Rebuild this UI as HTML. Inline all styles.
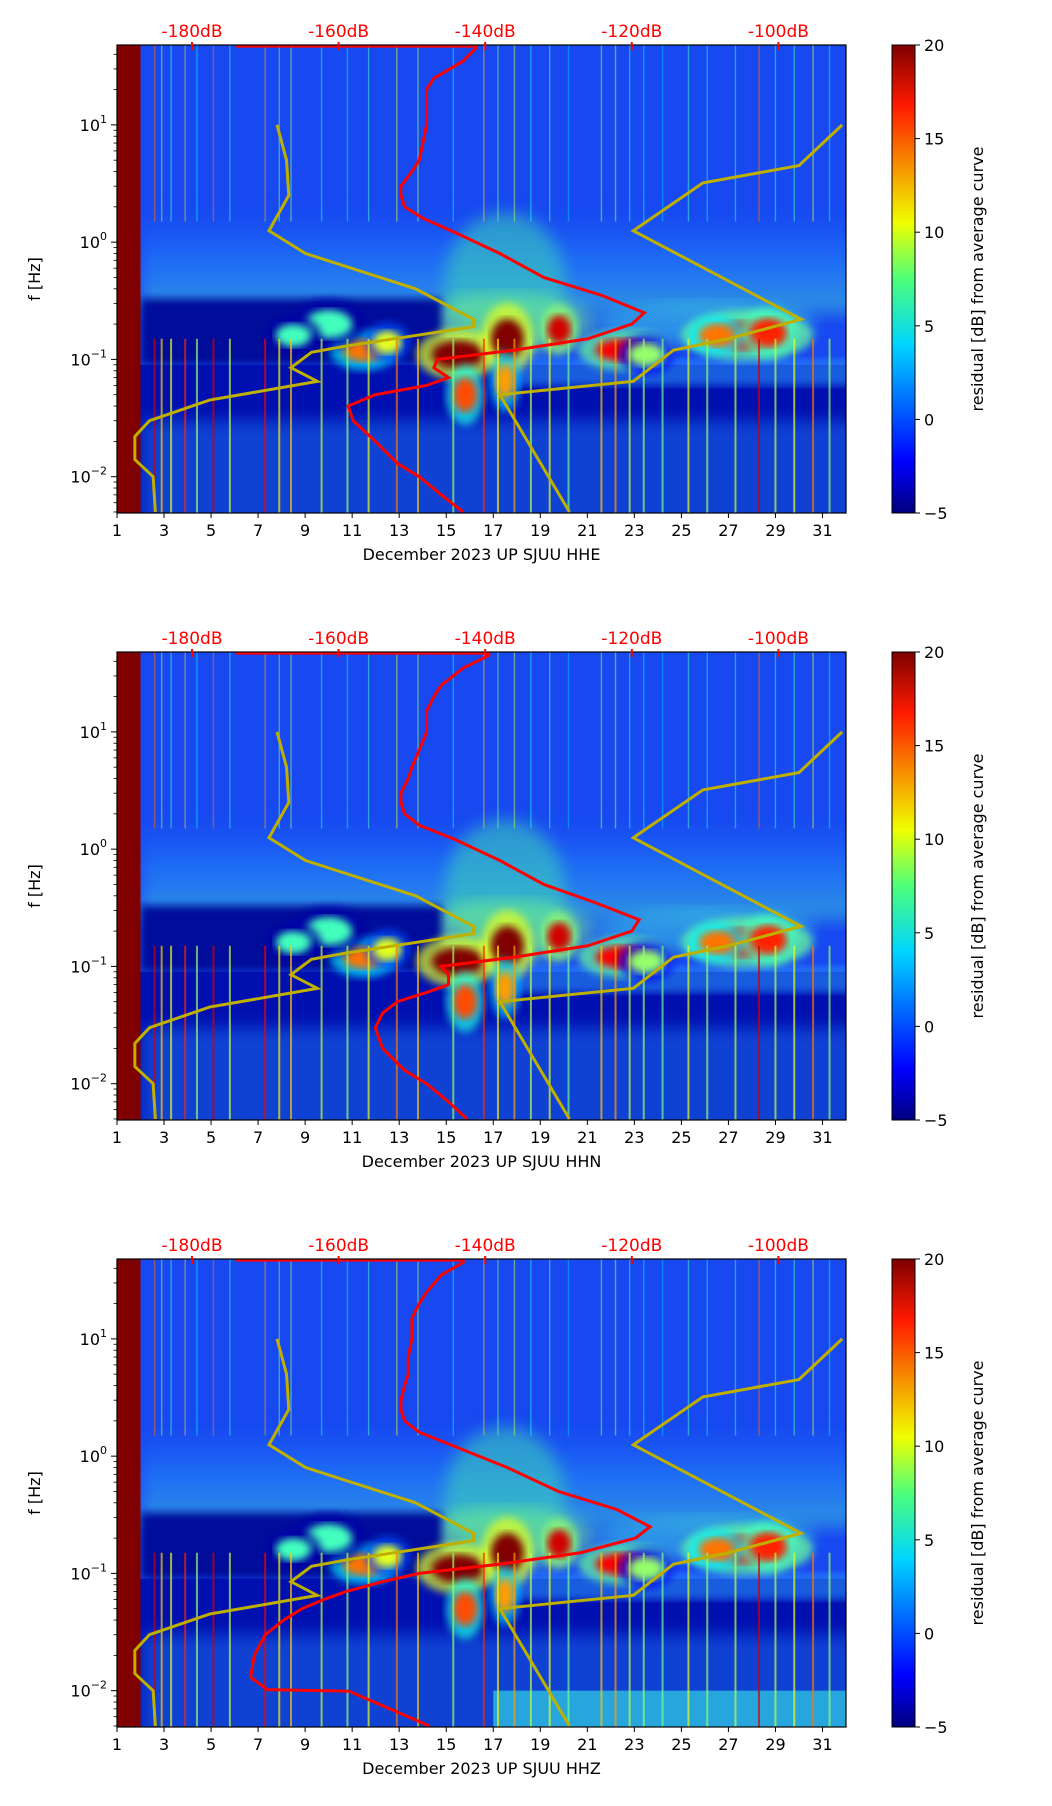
<!DOCTYPE html>
<html><head><meta charset="utf-8"><style>
html,body{margin:0;padding:0;background:#fff;overflow:hidden;width:1052px;height:1806px}
svg{display:block;font-family:"DejaVu Sans","Liberation Sans",sans-serif}
</style></head><body>
<svg id="fig" width="1052" height="1806" viewBox="0 0 1052 1806" xmlns="http://www.w3.org/2000/svg">
<defs>
<linearGradient id="jet" x1="0" y1="1" x2="0" y2="0">
<stop offset="0" stop-color="#00007f"/><stop offset="0.11" stop-color="#0000ff"/><stop offset="0.36" stop-color="#00d5ff"/><stop offset="0.5" stop-color="#4dff7a"/><stop offset="0.62" stop-color="#f0ff00"/><stop offset="0.87" stop-color="#ff1a00"/><stop offset="1" stop-color="#7f0000"/>
</linearGradient>
<linearGradient id="haze" x1="0" y1="0" x2="0" y2="1">
<stop offset="0" stop-color="#1e7cff" stop-opacity="0"/><stop offset="0.5" stop-color="#2aa8ff" stop-opacity="0.7"/><stop offset="1" stop-color="#46e0d0" stop-opacity="0.9"/>
</linearGradient>
<filter id="blur4"><feGaussianBlur stdDeviation="4"/></filter>
<filter id="blur8"><feGaussianBlur stdDeviation="8"/></filter>
</defs>
</svg>
<script>
// ---- data ----
const panelNames = ["HHE","HHN","HHZ"];
const dayTicks = [1,3,5,7,9,11,13,15,17,19,21,23,25,27,29,31];
const dbTicks = [-180,-160,-140,-120,-100];
const cbTicks = [20,15,10,5,0,-5];
// red curve: frequency (Hz) and level (dB) per panel
const redFreqE = [45,35,25,20,15,10,7,5,4,3,2.5,2,1.6,1.2,0.8,0.5,0.35,0.25,0.2,0.15,0.12,0.1,0.085,0.07,0.06,0.05,0.04,0.03,0.02,0.013,0.01,0.007,0.005];
const redDbE = [-141.3,-143,-147,-148,-148,-148,-148.5,-149,-150,-151.5,-151.5,-151,-148.5,-144,-138,-132,-124,-118.3,-120,-126,-136,-146.5,-147,-145,-148,-155,-158.7,-158,-155,-152,-149,-146,-143];
const redFreqN = redFreqE;
const redDbN = [-139.5,-143,-146,-147,-148,-148,-149,-150,-150.5,-151.5,-151.5,-151,-149,-144,-138,-132,-125,-119,-120,-126,-136,-146,-145,-145,-148,-152,-154,-155,-154,-151,-148,-145,-142.5];
const redFreqZ = [45,35,25,20,15,10,7,5,4,3,2.5,2,1.6,1.2,0.8,0.5,0.35,0.25,0.2,0.15,0.12,0.1,0.085,0.07,0.06,0.05,0.04,0.03,0.02,0.013,0.0102,0.0099,0.007,0.005];
const redDbZ = [-143,-146,-148,-149,-150,-150,-150.5,-150.5,-151,-151.5,-151.5,-151,-149,-144,-137,-130,-122,-117.5,-119.5,-127,-138,-149,-154,-159,-162,-165,-167.5,-170,-171.5,-172,-169.7,-158.6,-153,-147.6];
const redFreqSets = [redFreqE, redFreqN, redFreqZ];
const redDbSets = [redDbE, redDbN, redDbZ];
// noise models (yellow)
const nlnmFreq = [10,5,2.5,1.25,0.8,0.4,0.22,0.19,0.13,0.115,0.085,0.065,0.045,0.03,0.022,0.014,0.01,0.005];
const nlnmDb = [-168.4,-167.1,-166.8,-169.5,-164.5,-149.5,-141.6,-141.6,-159,-163.7,-166.5,-162.9,-177.6,-185.8,-187.8,-187.8,-185.3,-185];
const nhnmFreq = [10,4.5,3.2,1.25,0.22,0.15,0.12,0.065,0.05,0.005];
const nhnmDb = [-91.3,-97.2,-110.3,-119.8,-96.9,-106.8,-114.3,-119.8,-138,-128.5];
// spectrogram blobs: day, freq, residual dB, width(days), height(decades)
const blobDay = [15.5,17.6,19.8,22.6,27.8,11.5,12.5,15.8,17.5,23.5,26.5,28.7,10,8.5];
const blobFreq = [0.11,0.15,0.18,0.12,0.16,0.12,0.14,0.05,0.065,0.11,0.16,0.17,0.2,0.16];
const blobVal = [20,20,18,17,17,14,10,15,13,8,14,16,6,6];
const blobW = [2.2,1.4,1.0,2.5,3.5,1.8,1.2,1.0,0.8,1.5,1.5,1.5,2,1.5];
const blobH = [0.1,0.14,0.1,0.08,0.1,0.08,0.08,0.12,0.12,0.08,0.08,0.1,0.1,0.08];
// vertical streaks: day, residual dB
const streakDay = [2.6,2.9,3.3,3.9,4.4,5.1,5.8,7.3,7.9,8.4,9.7,10.8,11.7,12.9,13.8,15.3,16.6,17.2,17.9,18.6,19.4,20.2,21.6,22.2,22.8,23.4,24.2,25.3,26.1,27.3,28.3,29.0,29.8,30.6,31.3];
const streakVal = [18,12,10,16,8,18,9,17,11,12,9,8,10,14,12,8,16,11,13,9,10,7,12,13,9,8,7,10,8,9,18,9,10,14,8];

// ---- helpers ----
const NS = "http://www.w3.org/2000/svg";
const svg = document.getElementById("fig");
const L = 117, R = 846, W = R - L, H = 468;
const panelTop = [45, 652, 1259];
const fTop = Math.log10(48), fBot = Math.log10(0.0049);
function xDay(d){ return L + (d - 1) / 31 * W; }
function yF(T, f){ return T + (fTop - Math.log10(f)) / (fTop - fBot) * H; }
function xDb(db){ return 192 + (db + 180) * 7.33; }
function jet(v){
  const t = Math.max(0, Math.min(1, (v + 5) / 25));
  const c = x => Math.round(255 * Math.max(0, Math.min(1, 1.5 - Math.abs(4 * t - x))));
  return `rgb(${c(3)},${c(2)},${c(1)})`;
}
function el(tag, attrs, parent){
  const e = document.createElementNS(NS, tag);
  for (const k in attrs) e.setAttribute(k, attrs[k]);
  (parent || svg).appendChild(e);
  return e;
}
function txt(s, attrs, parent){ const e = el("text", attrs, parent); e.textContent = s; return e; }

panelNames.forEach((name, pi) => {
  const T = panelTop[pi];
  const g = el("g", {});
  
  
  const clipId = "clip" + pi;
  const cp = el("clipPath", {id: clipId}, g);
  el("rect", {x: L, y: T, width: W, height: H}, cp);
  const sp = el("g", {"clip-path": `url(#${clipId})`}, g);
  
  
  el("rect", {x: L, y: T, width: W, height: H, fill: "#1848f0"}, sp);
  el("rect", {x: xDay(2), y: yF(T, 2), width: W, height: yF(T, 0.25) - yF(T, 2), fill: "url(#haze)", opacity: 0.55, filter: "url(#blur8)"}, sp);
  el("ellipse", {cx: xDay(17.5), cy: yF(T, 0.45), rx: 60, ry: 70, fill: "#40e0b0", opacity: 0.5, filter: "url(#blur8)"}, sp);
  el("ellipse", {cx: xDay(17.5), cy: yF(T, 0.2), rx: 90, ry: 30, fill: "#80ff80", opacity: 0.5, filter: "url(#blur8)"}, sp);
  el("ellipse", {cx: xDay(26), cy: yF(T, 0.2), rx: 110, ry: 22, fill: "#40d8e0", opacity: 0.5, filter: "url(#blur8)"}, sp);
  el("rect", {x: xDay(2), y: yF(T, 0.33), width: xDay(14.8) - xDay(2), height: yF(T, 0.09) - yF(T, 0.33), fill: "#000a9a", filter: "url(#blur4)"}, sp);
  el("rect", {x: xDay(2), y: yF(T, 0.09), width: W, height: H, fill: "#0010b0"}, sp);
  el("rect", {x: xDay(17), y: yF(T, 0.1), width: W, height: yF(T, 0.06) - yF(T, 0.1), fill: "#2a90ff", opacity: 0.6, filter: "url(#blur4)"}, sp);
  el("rect", {x: xDay(2), y: yF(T, 0.03), width: W, height: H, fill: "#1a6af0", opacity: 0.55, filter: "url(#blur8)"}, sp);
  if (pi === 2) el("rect", {x: xDay(17), y: yF(T, 0.01), width: xDay(32) - xDay(17), height: H, fill: "#30c8e0", opacity: 0.75}, sp);
  blobDay.forEach((d, i) => {
    const cx = xDay(blobDay[i]), cy = yF(T, blobFreq[i]);
    const rx = blobW[i] / 31 * W / 2, ry = blobH[i] * (H / (fTop - fBot)) * 1.2;
    const halo = el("ellipse", {cx, cy, rx: rx * 1.6, ry: ry * 1.8, fill: jet(blobVal[i] - 10), opacity: 0.7, filter: "url(#blur4)"}, sp);
    
    
    const b = el("ellipse", {cx, cy, rx, ry, fill: jet(blobVal[i]), filter: "url(#blur4)"}, sp);
    
    
  });
  streakDay.forEach((d, i) => {
    const x = xDay(d);
    const s1 = el("rect", {x: x - 0.7, y: T, width: 1.4, height: yF(T, 1.5) - T, fill: jet(streakVal[i] - 4), opacity: 0.5}, sp);
    
    
    const s2 = el("rect", {x: x - 1, y: yF(T, 0.15), width: 2, height: H, fill: jet(streakVal[i]), opacity: 0.7}, sp);
    
    
  });
  el("rect", {x: L, y: T, width: xDay(2) - L, height: H, fill: "#7f0000"}, sp);

  const ptsN = nlnmFreq.map((f, i) => `${xDb(nlnmDb[i])},${yF(T, f)}`).join(" ");
  const nl = el("polyline", {points: ptsN, fill: "none", stroke: "#bfb000", "stroke-width": 3}, sp);
  
  
  const ptsH = nhnmFreq.map((f, i) => `${xDb(nhnmDb[i])},${yF(T, f)}`).join(" ");
  const nh = el("polyline", {points: ptsH, fill: "none", stroke: "#bfb000", "stroke-width": 3}, sp);
  
  
  const dbs = redDbSets[pi], fr = redFreqSets[pi];
  let pts = `${xDb(-174)},${yF(T, 47)} ${xDb(dbs[0])},${yF(T, 47)} ` + fr.map((f, i) => `${xDb(dbs[i])},${yF(T, f)}`).join(" ");
  const rc = el("polyline", {points: pts, fill: "none", stroke: "#ff0000", "stroke-width": 3}, sp);
  
  

  el("rect", {x: L, y: T, width: W, height: H, fill: "none", stroke: "#000", "stroke-width": 1.2}, g);
  dayTicks.forEach(d => {
    const x = xDay(d);
    el("line", {x1: x, y1: T + H, x2: x, y2: T + H + 5, stroke: "#000"}, g);
    const t = txt(String(d), {x, y: T + H + 23, "text-anchor": "middle", "font-size": 16}, g);
    
    
  });
  const xl = txt(`December 2023 UP SJUU  ${name}`, {x: (L + R) / 2, y: T + H + 47, "text-anchor": "middle", "font-size": 16, "xml:space": "preserve"}, g);
  
  
  [1, 0, -1, -2].forEach(e => {
    const y = yF(T, Math.pow(10, e));
    el("line", {x1: L - 6, y1: y, x2: L, y2: y, stroke: "#000"}, g);
    const t = el("text", {x: L - 10, y: y + 6, "text-anchor": "end", "font-size": 16}, g);
    
    
    const a = el("tspan", {}, t); a.textContent = "10";
    const b = el("tspan", {dy: -8, "font-size": 11}, t); b.textContent = e < 0 ? "\u2212" + (-e) : String(e);
  });
  for (let e = -3; e <= 1; e++) for (let m = 2; m <= 9; m++) {
    const f = m * Math.pow(10, e);
    if (f < 0.0049 || f > 48) continue;
    const y = yF(T, f);
    el("line", {x1: L - 3.5, y1: y, x2: L, y2: y, stroke: "#000", "stroke-width": 0.8}, g);
  }
  const yl = txt("f [Hz]", {x: 0, y: 0, "text-anchor": "middle", "font-size": 16, transform: `translate(40,${T + H / 2}) rotate(-90)`}, g);
  
  
  dbTicks.forEach(db => {
    const x = xDb(db);
    el("line", {x1: x, y1: T - 3, x2: x, y2: T + 5, stroke: "#ff0000", "stroke-width": 2}, g);
    const t = txt(db + "dB", {x, y: T - 8, "text-anchor": "middle", "font-size": 17, fill: "#ff0000"}, g);
    
    
  });
  const cb = el("rect", {x: 892, y: T, width: 23, height: H, fill: "url(#jet)", stroke: "#000", "stroke-width": 1}, g);
  
  
  cbTicks.forEach(v => {
    const y = T + (20 - v) / 25 * H;
    el("line", {x1: 915, y1: y, x2: 920, y2: y, stroke: "#000"}, g);
    const t = txt(v < 0 ? "\u2212" + (-v) : String(v), {x: 924, y: y + 6, "font-size": 16}, g);
    
    
  });
  const cl = txt("residual [dB] from average curve", {x: 0, y: 0, "text-anchor": "middle", "font-size": 16, transform: `translate(983,${T + H / 2}) rotate(-90)`}, g);
  
  
});
</script>
</body></html>
